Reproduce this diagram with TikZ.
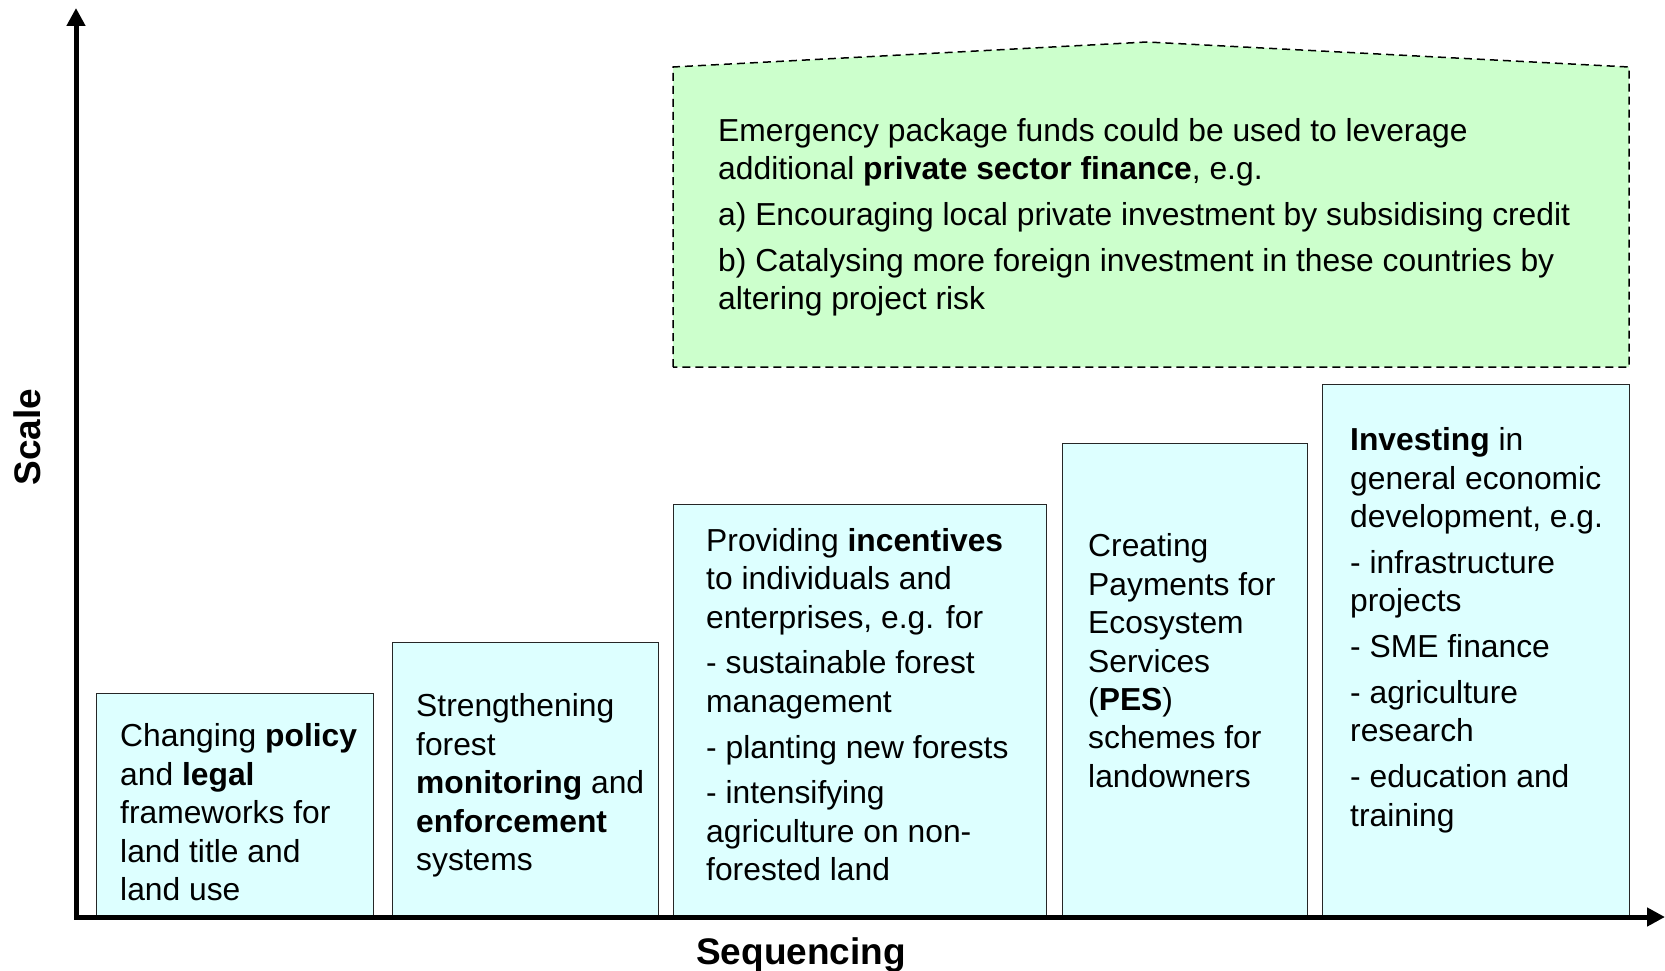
\documentclass[tikz,border=0pt]{standalone}
\usepackage{fontspec}
\setmainfont{Liberation Sans}
\usetikzlibrary{arrows.meta,positioning}
\definecolor{boxcyan}{HTML}{DDFFFF}
\definecolor{boxgreen}{HTML}{CCFFCC}

\begin{document}
\begin{tikzpicture}[x=1pt,y=-1pt,
    stage/.style={draw=black!85, line width=1.4pt, fill=boxcyan, anchor=south west, inner sep=0pt},
    txt/.style={inner sep=0pt, align=left, font=\fontsize{31.8}{38.4}\selectfont},
    axis/.style={line width=5pt, {Triangle[length=18pt,width=18pt]}-{Triangle[length=18pt,width=18pt]}},
    lab/.style={font=\fontsize{37}{41}\selectfont\bfseries}]
    \useasboundingbox (0,0) rectangle (1665,971);

    % finance box on top
    \coordinate (g) at (673,67);
    \draw[dash pattern=on 8pt off 5pt, line width=1.5pt, fill=boxgreen]
        (673,367) -- (g) -- (1147,42) -- (1629,67) -- (1629,367) -- cycle;
    \node[txt, below right=51pt and 45pt of g] (funds) {Emergency package funds could be used to leverage\\
        additional \textbf{private sector finance}, e.g.\\[7.4pt]
        a) Encouraging local private investment by subsidising credit\\[7.4pt]
        b) Catalysing more foreign investment in these countries by\\
        altering project risk};

    % the five steps
    \node[stage, minimum width=277pt, minimum height=223pt] (s1) at (96,917) {};
    \node[stage, minimum width=266pt, minimum height=274pt] (s2) at (392,917) {};
    \node[stage, minimum width=373pt, minimum height=412pt] (s3) at (673,917) {};
    \node[stage, minimum width=245pt, minimum height=473pt] (s4) at (1062,917) {};
    \node[stage, minimum width=307pt, minimum height=532pt] (s5) at (1322,917) {};

    \node[txt, below right=31pt and 24pt of s1.north west] (t1) {Changing \textbf{policy}\\
        and \textbf{legal}\\ frameworks for\\ land title and\\ land use};
    \node[txt, below right=52pt and 24pt of s2.north west] (t2) {Strengthening\\ forest\\
        \textbf{monitoring} and\\ \textbf{enforcement}\\ systems};
    \node[txt, below right=24.5pt and 33pt of s3.north west] (t3) {Providing \textbf{incentives}\\
        to individuals and\\ enterprises, e.g. for\\[7.4pt]
        - sustainable forest\\ management\\[7.4pt]
        - planting new forests\\[7.4pt]
        - intensifying\\ agriculture on non-\\ forested land};
    \node[txt, below right=91pt and 26pt of s4.north west] (t4) {Creating\\ Payments for\\
        Ecosystem\\ Services\\ (\textbf{PES})\\ schemes for\\ landowners};
    \node[txt, below right=44pt and 28pt of s5.north west] (t5) {\textbf{Investing} in\\
        general economic\\ development, e.g.\\[7.4pt]
        - infrastructure\\ projects\\[7.4pt]
        - SME finance\\[7.4pt]
        - agriculture\\ research\\[7.4pt]
        - education and\\ training};

    % axes
    \coordinate (o) at (76,917);
    \coordinate (ytop) at (76,8);
    \coordinate (xend) at (1665,917);
    \draw[axis] (ytop) -- (o) -- (xend);
    \node[lab, rotate=90] (scale) at (27,437) {Scale};
    \node[lab] (seq) at (801,955) {Sequencing};
\end{tikzpicture}
\end{document}
